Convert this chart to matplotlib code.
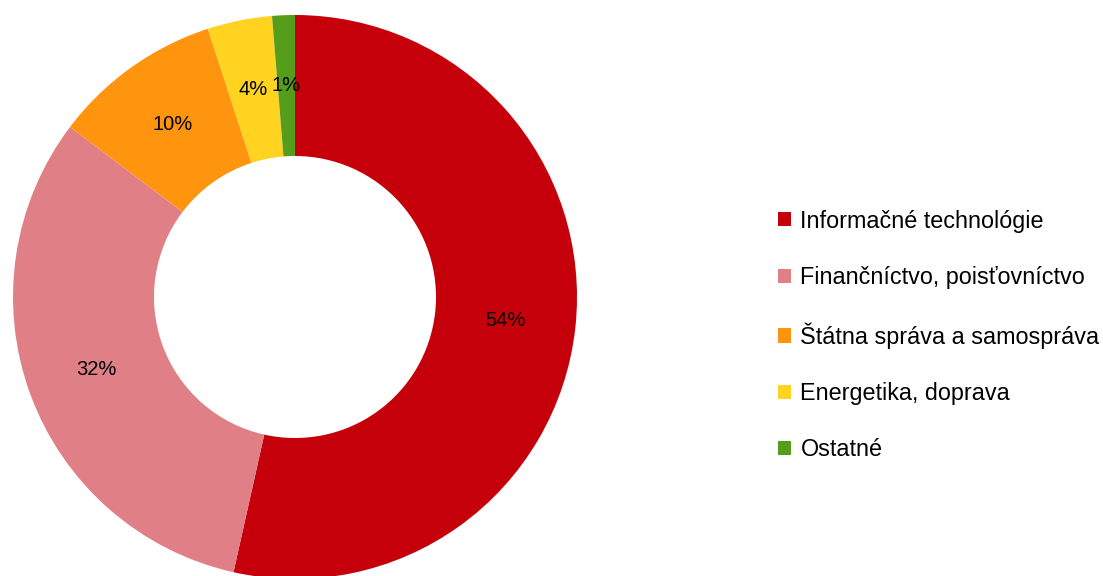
import matplotlib.pyplot as plt

plt.rcParams['font.family'] = ['Liberation Sans', 'DejaVu Sans']

# shares by sector (%)
sectors = ['Informačné technológie', 'Finančníctvo, poisťovníctvo',
           'Štátna správa a samospráva', 'Energetika, doprava', 'Ostatné']
shares = [53.5, 31.8, 9.7, 3.7, 1.3]
labels = ['54%', '32%', '10%', '4%', '1%']
colors = ['#C5000B', '#E07F86', '#FF950E', '#FFD320', '#579D1C']

W, H = 1103, 576
fig = plt.figure(figsize=(W / 100, H / 100), dpi=100)

# donut centre (295, 297) px, outer radius ~281 px
cx, cy, r = 295, 297, 282
ax = fig.add_axes([(cx - r) / W, (H - cy - r) / H, 2 * r / W, 2 * r / H])

wedges, texts = ax.pie(shares, labels=labels, colors=colors, startangle=90,
                       counterclock=False, radius=1, labeldistance=0.75,
                       wedgeprops=dict(width=0.5, linewidth=0),
                       textprops=dict(fontsize=14.5, color='black',
                                      ha='center', va='center'))
ax.set_xlim(-1, 1)
ax.set_ylim(-1, 1)
ax.set_aspect('equal')
ax.axis('off')

fig.legend(wedges, sectors, loc='center left',
           bbox_to_anchor=(778 / W, 1 - 335.5 / H), frameon=False,
           fontsize=16.8, handlelength=0.56, handleheight=0.56,
           handletextpad=0.4, labelspacing=1.43, borderpad=0,
           borderaxespad=0)

fig.savefig('out.png', dpi=100)
